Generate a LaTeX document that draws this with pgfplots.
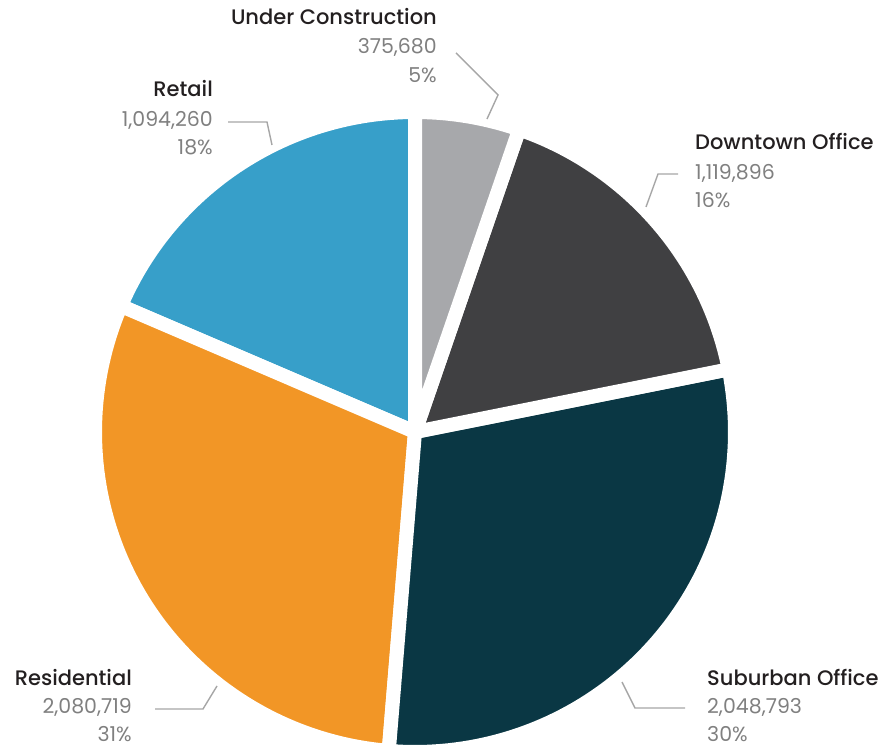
\documentclass[border=0pt]{standalone}
\usepackage{pgfplots}
\pgfplotsset{compat=1.18}
\usepackage{fontspec}
\setmainfont{Poppins}[BoldFont={Poppins Medium}]
\definecolor{ucgray}{RGB}{167,168,171}
\definecolor{dtgray}{RGB}{64,64,66}
\definecolor{subteal}{RGB}{10,55,68}
\definecolor{resorange}{RGB}{242,150,38}
\definecolor{retblue}{RGB}{55,159,201}
\definecolor{valgray}{RGB}{128,128,128}
\definecolor{leader}{RGB}{166,166,166}
\definecolor{titleblk}{RGB}{35,31,32}
\begin{document}
\begin{tikzpicture}[
  ttl/.style={font=\fontsize{21}{25}\selectfont\bfseries, text=titleblk, inner sep=0pt},
  val/.style={font=\fontsize{20.5}{24}\selectfont, text=valgray, inner sep=0pt},
  lead/.style={draw=leader, line width=1.4pt}]
\useasboundingbox (0,0) rectangle (884pt,750pt);
\begin{axis}[at={(0,0)}, anchor=south west, width=884pt, height=750pt, scale only axis,
  xmin=0, xmax=884, ymin=0, ymax=750, hide axis, clip=false]
% slices: angular extent in degrees (start:end), counter-clockwise
% Retail 1,094,260 (18%)
\addplot[fill=retblue, draw=white, line width=14pt, line join=round, domain=90:156.8, samples=60]
  ({415+320*cos(x)},{318+320*sin(x)}) -- (415,318) -- cycle;
% Residential 2,080,719 (31%)
\addplot[fill=resorange, draw=white, line width=14pt, line join=round, domain=156.8:265.3, samples=80]
  ({415+320*cos(x)},{318+320*sin(x)}) -- (415,318) -- cycle;
% Suburban Office 2,048,793 (30%)
\addplot[fill=subteal, draw=white, line width=14pt, line join=round, domain=265.3:371.3, samples=80]
  ({415+320*cos(x)},{318+320*sin(x)}) -- (415,318) -- cycle;
% Downtown Office 1,119,896 (16%)
\addplot[fill=dtgray, draw=white, line width=14pt, line join=round, domain=11.3:71, samples=50]
  ({415+320*cos(x)},{318+320*sin(x)}) -- (415,318) -- cycle;
% Under Construction 375,680 (5%)
\addplot[fill=ucgray, draw=white, line width=14pt, line join=round, domain=71:90, samples=30]
  ({415+320*cos(x)},{318+320*sin(x)}) -- (415,318) -- cycle;

% leader lines
\draw[lead] (456,697) -- (498,655) -- (487,631);
\draw[lead] (228,628) -- (267,628) -- (272,605);
\draw[lead] (678,576) -- (658,576) -- (646,543);
\draw[lead] (155,41) -- (203,41) -- (217,64);
\draw[lead] (685,42) -- (635,42) -- (622,68);

% labels
\node[ttl, anchor=base east] at (437,725) {Under Construction};
\node[val, anchor=base east] at (437,696) {375,680};
\node[val, anchor=base east] at (437,667) {5\%};

\node[ttl, anchor=base east] at (213,653) {Retail};
\node[val, anchor=base east] at (213,623) {1,094,260};
\node[val, anchor=base east] at (213,595) {18\%};

\node[ttl, anchor=base west] at (695,600) {Downtown Office};
\node[val, anchor=base west] at (695,570) {1,119,896};
\node[val, anchor=base west] at (695,542) {16\%};

\node[ttl, anchor=base east] at (132,64) {Residential};
\node[val, anchor=base east] at (132,36) {2,080,719};
\node[val, anchor=base east] at (132,8) {31\%};

\node[ttl, anchor=base west] at (707,64) {Suburban Office};
\node[val, anchor=base west] at (707,36) {2,048,793};
\node[val, anchor=base west] at (707,8) {30\%};
\end{axis}
\end{tikzpicture}
\end{document}
